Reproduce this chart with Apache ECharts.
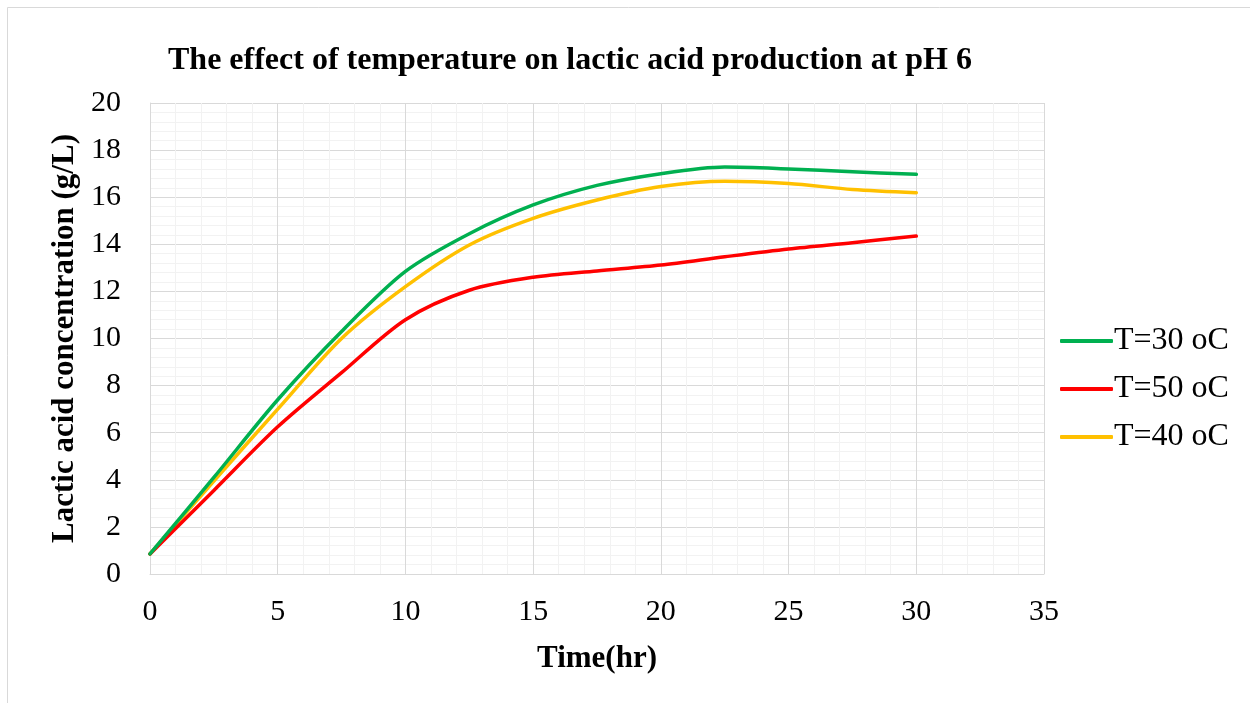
<!DOCTYPE html>
<html>
<head>
<meta charset="utf-8">
<script src="https://cdn.jsdelivr.net/npm/echarts@6/dist/echarts.min.js"></script>
<style>
  html, body { margin: 0; padding: 0; background: #fff; }
  #chart { width: 1250px; height: 703px; }
</style>
</head>
<body>
<div id="chart"></div>
<script>
// Sampling times (hr)
const timeHr = [0, 2.5, 5, 7.5, 10, 12.5, 15, 17.5, 20, 22.5, 25, 27.5, 30];

// Lactic acid concentration (g/L) for each temperature
const t30 = [0.85, 4.1, 7.4, 10.3, 12.85, 14.45, 15.67, 16.5, 17.0, 17.28, 17.2, 17.08, 16.97];
const t50 = [0.85, 3.55, 6.25, 8.55, 10.8, 12.05, 12.6, 12.87, 13.12, 13.47, 13.8, 14.07, 14.35];
const t40 = [0.85, 3.95, 7.0, 10.0, 12.2, 13.97, 15.1, 15.88, 16.45, 16.68, 16.58, 16.33, 16.19];

const seriesNames = ['T=30 oC', 'T=50 oC', 'T=40 oC'];
const seriesColors = ['#00B050', '#FF0000', '#FFC000'];
const seriesValues = [t30, t50, t40];

const FONT = '"Liberation Serif", "Times New Roman", serif';

const chart = echarts.init(document.getElementById('chart'), null, { renderer: 'canvas' });

const series = seriesNames.map((name, i) => ({
  name: name,
  type: 'line',
  smooth: 0.3,
  showSymbol: false,
  symbol: 'none',
  data: timeHr.map((t, k) => [t, seriesValues[i][k]]),
  lineStyle: { color: seriesColors[i], width: 3.5, cap: 'round', join: 'round' },
  itemStyle: { color: seriesColors[i] },
  z: 3 - i
}));

chart.setOption({
  backgroundColor: '#ffffff',
  animation: false,
  title: {
    text: 'The effect of temperature on lactic acid production at pH 6',
    left: 565,
    textAlign: 'center',
    top: 40,
    textStyle: { fontFamily: FONT, fontWeight: 'bold', fontSize: 32, color: '#000' }
  },
  legend: {
    orient: 'vertical',
    left: 1055,
    top: 320,
    itemGap: 16,
    itemWidth: 53,
    itemHeight: 4,
    icon: 'roundRect',
    data: seriesNames,
    textStyle: { fontFamily: FONT, fontSize: 32, color: '#000', padding: [0, 0, 0, -4] }
  },
  grid: { left: 150, right: 206, top: 103, bottom: 129, containLabel: false },
  xAxis: {
    type: 'value',
    min: 0, max: 35, interval: 5,
    name: 'Time(hr)',
    nameLocation: 'middle',
    nameGap: 69,
    nameTextStyle: { fontFamily: FONT, fontWeight: 'bold', fontSize: 31, color: '#000' },
    axisLine: { show: true, lineStyle: { color: '#d9d9d9', width: 1 } },
    axisTick: { show: false },
    axisLabel: { fontFamily: FONT, fontSize: 30, color: '#000', margin: 23 },
    splitLine: { show: true, lineStyle: { color: '#d9d9d9', width: 1 } },
    minorTick: { show: false, splitNumber: 5 },
    minorSplitLine: { show: true, lineStyle: { color: '#f2f2f2', width: 1 } }
  },
  yAxis: {
    type: 'value',
    min: 0, max: 20, interval: 2,
    name: 'Lactic acid concentration (g/L)',
    nameLocation: 'middle',
    nameGap: 70,
    nameTextStyle: { fontFamily: FONT, fontWeight: 'bold', fontSize: 31, color: '#000' },
    axisLine: { show: true, lineStyle: { color: '#d9d9d9', width: 1 } },
    axisTick: { show: false },
    axisLabel: { fontFamily: FONT, fontSize: 30, color: '#000', margin: 29 },
    splitLine: { show: true, lineStyle: { color: '#d9d9d9', width: 1 } },
    minorTick: { show: false, splitNumber: 5 },
    minorSplitLine: { show: true, lineStyle: { color: '#f2f2f2', width: 1 } }
  },
  graphic: [
    { type: 'line', shape: { x1: 7.5, y1: 7.5, x2: 1250, y2: 7.5 }, style: { stroke: '#d9d9d9', lineWidth: 1 }, silent: true },
    { type: 'line', shape: { x1: 7.5, y1: 7.5, x2: 7.5, y2: 703 }, style: { stroke: '#d9d9d9', lineWidth: 1 }, silent: true }
  ],
  series: series
});
</script>
</body>
</html>
